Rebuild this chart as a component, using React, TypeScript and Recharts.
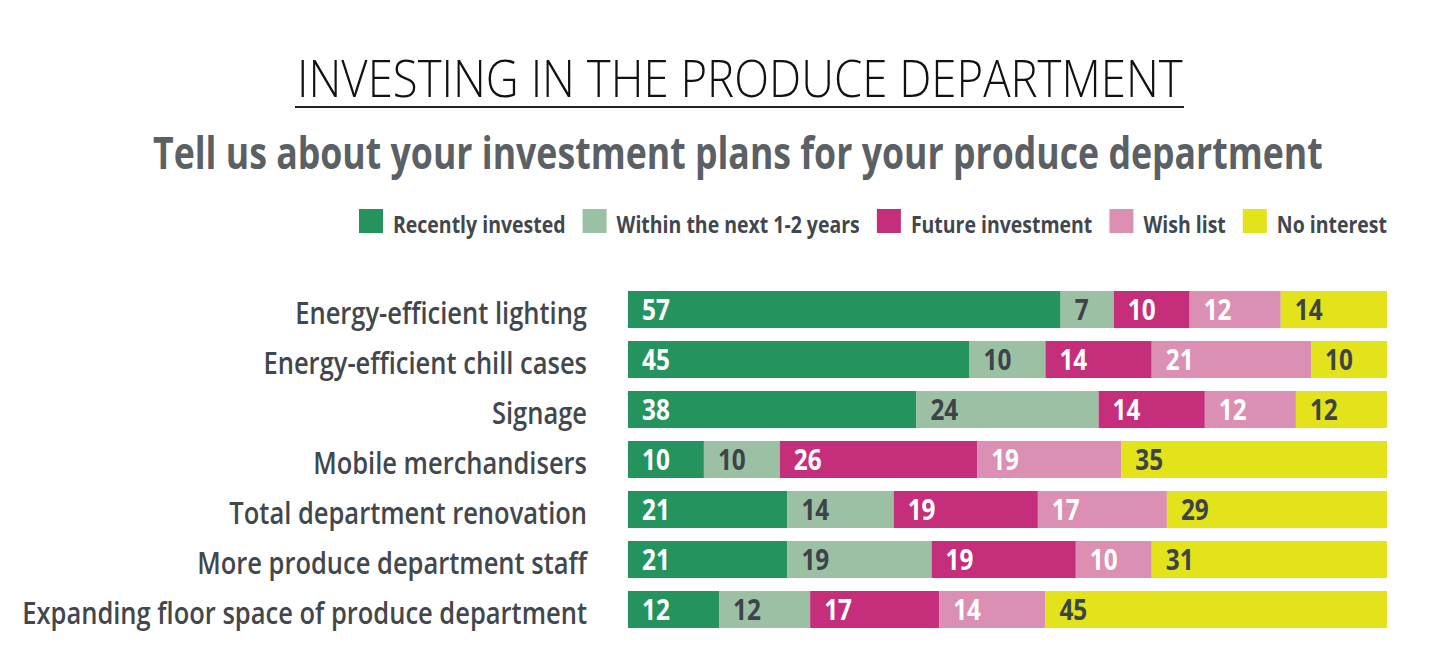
import React from 'react';
import { BarChart, Bar, XAxis, YAxis, LabelList } from 'recharts';

const categories = [
  'Energy-efficient lighting',
  'Energy-efficient chill cases',
  'Signage',
  'Mobile merchandisers',
  'Total department renovation',
  'More produce department staff',
  'Expanding floor space of produce department',
];

const recentlyInvested = [57, 45, 38, 10, 21, 21, 12];
const withinNext12Years = [7, 10, 24, 10, 14, 19, 12];
const futureInvestment = [10, 14, 14, 26, 19, 19, 17];
const wishList = [12, 21, 12, 19, 17, 10, 14];
const noInterest = [14, 10, 12, 35, 29, 31, 45];

const seriesNames = ['Recently invested', 'Within the next 1-2 years', 'Future investment', 'Wish list', 'No interest'];
const seriesKeys = ['recent', 'within', 'future', 'wish', 'none'];
const seriesValues = [recentlyInvested, withinNext12Years, futureInvestment, wishList, noInterest];
const seriesColors = ['#24935e', '#9cc0a4', '#c42e7a', '#db8fb2', '#e2e31b'];
const seriesLabelColors = ['#ffffff', '#3d4348', '#ffffff', '#ffffff', '#3d4348'];

const titleText = 'INVESTING IN THE PRODUCE DEPARTMENT';
const subtitleText = 'Tell us about your investment plans for your produce department';

const data = categories.map((c, i) => {
  const row: Record<string, any> = { category: c };
  seriesKeys.forEach((k, j) => {
    row[k] = seriesValues[j][i];
  });
  return row;
});

const FONT = "'Open Sans', 'Noto Sans', sans-serif";
const LABEL_COLOR = '#42474d';

let ctx: CanvasRenderingContext2D | null = null;
function measure(text: string, font: string): number {
  if (!ctx && typeof document !== 'undefined') {
    ctx = document.createElement('canvas').getContext('2d');
  }
  if (!ctx) return text.length * 14;
  ctx.font = font;
  return ctx.measureText(text).width;
}

const LABEL_SIZE = 31;
const labelFont = `600 ${LABEL_SIZE}px ${FONT}`;
const longest = categories.reduce((a, b) => (measure(b, labelFont) > measure(a, labelFont) ? b : a));
const labelScale = 565 / measure(longest, labelFont);

const TITLE_SIZE = 52;
const titleScale = 886 / measure(titleText, `300 ${TITLE_SIZE}px ${FONT}`);
const SUB_SIZE = 45;
const subScale = 1170 / measure(subtitleText, `700 ${SUB_SIZE}px ${FONT}`);

const YTick = (props: any) => {
  const { x, y, payload } = props;
  return (
    <g transform={`translate(${x},${y + 15}) scale(${labelScale},1)`}>
      <text x={0} y={0} textAnchor="end" fontFamily={FONT} fontWeight={600} fontSize={LABEL_SIZE} fill={LABEL_COLOR}>
        {payload.value}
      </text>
    </g>
  );
};

const makeValueLabel = (color: string) => (props: any) => {
  const { x, y, height, value } = props;
  return (
    <g transform={`translate(${Number(x) + 14},${Number(y) + Number(height) / 2 + 10}) scale(0.84,1)`}>
      <text x={0} y={0} textAnchor="start" fontFamily={FONT} fontWeight={700} fontSize={29} fill={color}>
        {value}
      </text>
    </g>
  );
};

const LEGEND_SIZE = 24;
const legendFont = `700 ${LEGEND_SIZE}px ${FONT}`;
const legendWidths = seriesNames.map((n) => measure(n, legendFont));
const legendScale = 790 / legendWidths.reduce((a, b) => a + b, 0);

function Legend() {
  let cx = 359;
  const items = seriesNames.map((name, i) => {
    const rx = cx;
    const tx = rx + 34;
    const w = legendWidths[i] * legendScale;
    cx = tx + w + 17;
    return (
      <g key={name}>
        <rect x={rx} y={209} width={24} height={24} fill={seriesColors[i]} />
        <g transform={`translate(${tx},233) scale(${legendScale},1)`}>
          <text x={0} y={0} fontFamily={FONT} fontWeight={700} fontSize={LEGEND_SIZE} fill={LABEL_COLOR}>
            {name}
          </text>
        </g>
      </g>
    );
  });
  return <g>{items}</g>;
}

export default function App() {
  return (
    <div style={{ position: 'relative', width: 1432, height: 646 }}>
      <BarChart
        width={1432}
        height={646}
        data={data}
        layout="vertical"
        margin={{ top: 276, right: 53, bottom: 20, left: 0 }}
      >
        <XAxis type="number" domain={[0, 100]} hide />
        <YAxis
          type="category"
          dataKey="category"
          width={620}
          axisLine={false}
          tickLine={false}
          tickSize={0}
          tickMargin={41}
          interval={0}
          tick={<YTick />}
        />
        {seriesKeys.map((k, i) => (
          <Bar key={k} dataKey={k} name={seriesNames[i]} stackId="a" fill={seriesColors[i]} barSize={37} isAnimationActive={false}>
            <LabelList dataKey={k} content={makeValueLabel(seriesLabelColors[i])} />
          </Bar>
        ))}
      </BarChart>
      <svg
        width={1440}
        height={654}
        style={{ position: 'absolute', left: -8, top: -8, pointerEvents: 'none' }}
      >
        <g transform={`translate(297,97) scale(${titleScale},1)`}>
          <text x={0} y={0} fontFamily={FONT} fontWeight={300} fontSize={TITLE_SIZE} fill="#111111">
            {titleText}
          </text>
        </g>
        <rect x={295} y={106} width={889} height={2} fill="#222222" />
        <g transform={`translate(153,169) scale(${subScale},1)`}>
          <text x={0} y={0} fontFamily={FONT} fontWeight={700} fontSize={SUB_SIZE} fill="#5b6065">
            {subtitleText}
          </text>
        </g>
        <Legend />
      </svg>
    </div>
  );
}
